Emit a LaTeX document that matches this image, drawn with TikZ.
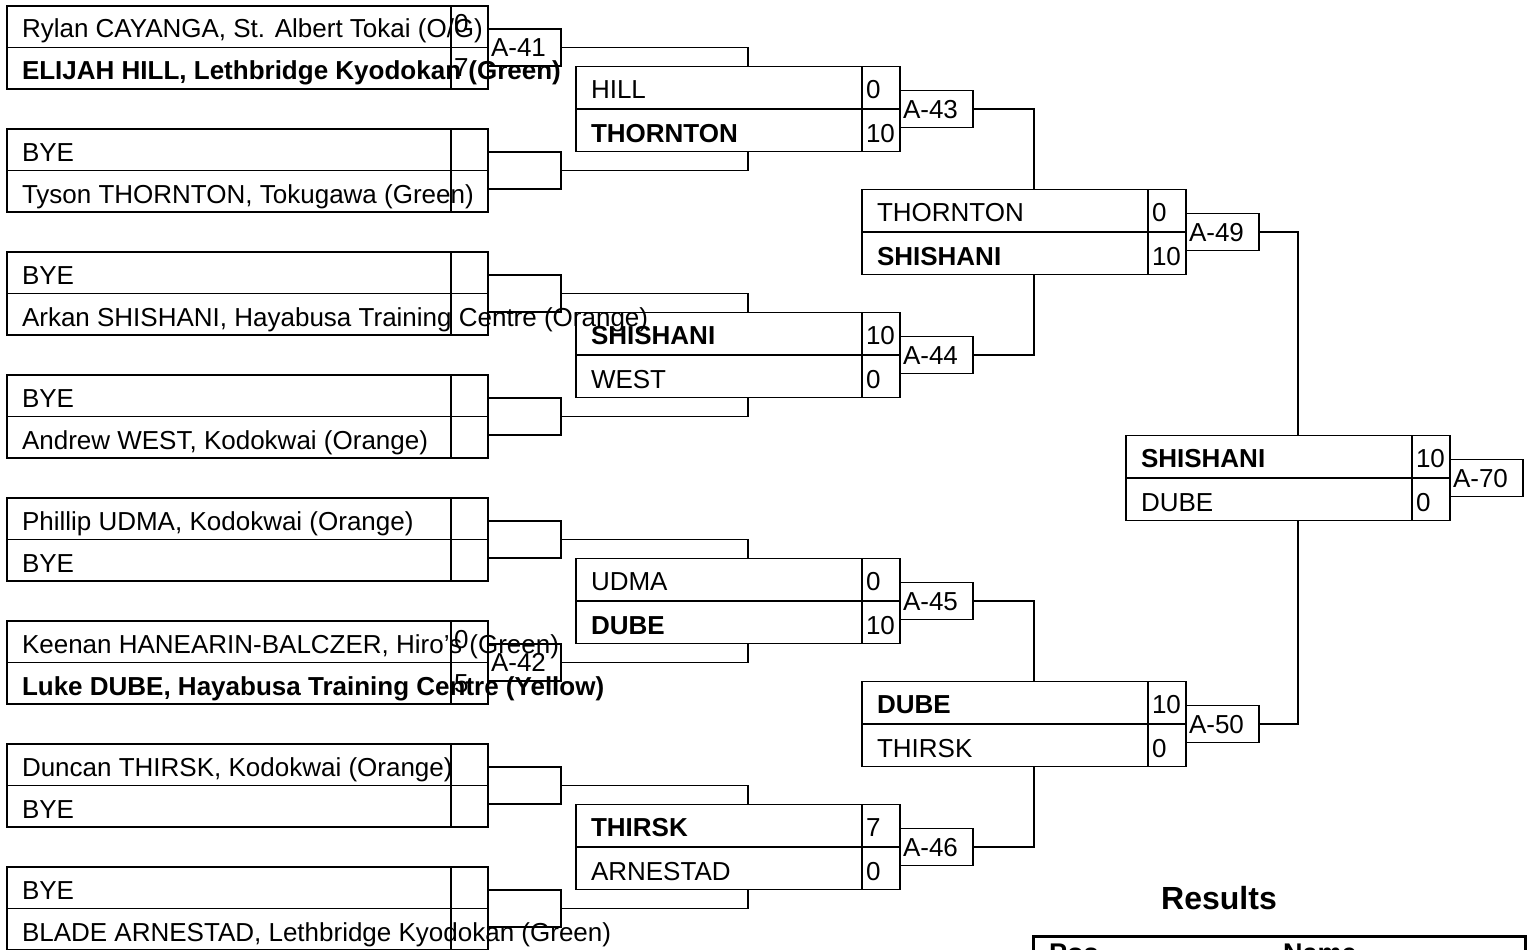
\documentclass[tikz,border=0pt]{standalone}
\usepackage{fontspec}
\setmainfont{Liberation Sans}
\usetikzlibrary{calc}
\tikzset{
  frame/.style={draw, rectangle, inner sep=0pt, outer sep=0pt, line width=1.5pt},
  nm/.style={anchor=base west, inner sep=0pt, outer sep=0pt, font=\fontsize{26}{30}\selectfont},
  lbl/.style={frame, minimum width=73, minimum height=37, anchor=west},
  conn/.style={line width=1.5pt},
}
\newcommand\firstbox[6]{%
  \node[frame, minimum width=481, minimum height=83, anchor=north west] (#1) at (7,#2) {};
  \draw[conn] (#1.west) -- (#1.east);
  \draw[conn] ($(#1.north east)+(-37,0)$) -- ($(#1.south east)+(-37,0)$);
  \node[nm] at ($(#1.north west)+(15,32)$) {#3};
  \node[nm] at ($(#1.north west)+(15,74)$) {#4};
  \node[nm] at ($(#1.north east)+(-34,27)$) {#5};
  \node[nm] at ($(#1.north east)+(-34,71)$) {#6};
}
\newcommand\laterbox[7]{%
  \node[frame, minimum width=324, minimum height=85, anchor=north west] (#1) at (#2,#3) {};
  \draw[conn] (#1.west) -- (#1.east);
  \draw[conn] ($(#1.north east)+(-38,0)$) -- ($(#1.south east)+(-38,0)$);
  \node[nm] at ($(#1.north west)+(15,32)$) {#4};
  \node[nm] at ($(#1.north west)+(15,76)$) {#5};
  \node[nm] at ($(#1.north east)+(-34,32)$) {#6};
  \node[nm] at ($(#1.north east)+(-34,76)$) {#7};
}
\newcommand\boutlabel[3]{%
  \node[lbl] (#1) at (#2.east) {};
  \node[nm] at ($(#1.west)+(3,9)$) {#3};
}
\begin{document}
\begin{tikzpicture}[x=1pt,y=-1pt]
\useasboundingbox (0,0) rectangle (1535,950);
\fill[white] (0,0) rectangle (1535,950);
\clip (0,0) rectangle (1535,950);

% first round
\firstbox{m1}{6}{Rylan CAYANGA, St. Albert Tokai (O/G)}{\bfseries ELIJAH HILL, Lethbridge Kyodokan (Green)}{0}{7}
\firstbox{m2}{129}{BYE}{Tyson THORNTON, Tokugawa (Green)}{}{}
\firstbox{m3}{252}{BYE}{Arkan SHISHANI, Hayabusa Training Centre (Orange)}{}{}
\firstbox{m4}{375}{BYE}{Andrew WEST, Kodokwai (Orange)}{}{}
\firstbox{m5}{498}{Phillip UDMA, Kodokwai (Orange)}{BYE}{}{}
\firstbox{m6}{621}{Keenan HANEARIN-BALCZER, Hiro's (Green)}{\bfseries Luke DUBE, Hayabusa Training Centre (Yellow)}{0}{5}
\firstbox{m7}{744}{Duncan THIRSK, Kodokwai (Orange)}{BYE}{}{}
\firstbox{m8}{867}{BYE}{BLADE ARNESTAD, Lethbridge Kyodokan (Green)}{}{}

\boutlabel{l1}{m1}{A-41}
\boutlabel{l2}{m2}{}
\boutlabel{l3}{m3}{}
\boutlabel{l4}{m4}{}
\boutlabel{l5}{m5}{}
\boutlabel{l6}{m6}{A-42}
\boutlabel{l7}{m7}{}
\boutlabel{l8}{m8}{}

% second round
\laterbox{m9}{576}{66.5}{HILL}{\bfseries THORNTON}{0}{10}
\laterbox{m10}{576}{312.5}{\bfseries SHISHANI}{WEST}{10}{0}
\laterbox{m11}{576}{558.5}{UDMA}{\bfseries DUBE}{0}{10}
\laterbox{m12}{576}{804.5}{\bfseries THIRSK}{ARNESTAD}{7}{0}

\boutlabel{l9}{m9}{A-43}
\boutlabel{l10}{m10}{A-44}
\boutlabel{l11}{m11}{A-45}
\boutlabel{l12}{m12}{A-46}

% third round
\laterbox{m13}{862}{189.5}{THORNTON}{\bfseries SHISHANI}{0}{10}
\laterbox{m14}{862}{681.5}{\bfseries DUBE}{THIRSK}{10}{0}
\boutlabel{l13}{m13}{A-49}
\boutlabel{l14}{m14}{A-50}

% final
\laterbox{m15}{1126}{435.5}{\bfseries SHISHANI}{DUBE}{10}{0}
\boutlabel{l15}{m15}{A-70}

% connectors
\draw[conn] (l1.east) -| ($(m9.north)+(10,0)$);
\draw[conn] (l2.east) -| ($(m9.south)+(10,0)$);
\draw[conn] (l3.east) -| ($(m10.north)+(10,0)$);
\draw[conn] (l4.east) -| ($(m10.south)+(10,0)$);
\draw[conn] (l5.east) -| ($(m11.north)+(10,0)$);
\draw[conn] (l6.east) -| ($(m11.south)+(10,0)$);
\draw[conn] (l7.east) -| ($(m12.north)+(10,0)$);
\draw[conn] (l8.east) -| ($(m12.south)+(10,0)$);
\draw[conn] (l9.east) -| ($(m13.north)+(10,0)$);
\draw[conn] (l10.east) -| ($(m13.south)+(10,0)$);
\draw[conn] (l11.east) -| ($(m14.north)+(10,0)$);
\draw[conn] (l12.east) -| ($(m14.south)+(10,0)$);
\draw[conn] (l13.east) -| ($(m15.north)+(10,0)$);
\draw[conn] (l14.east) -| ($(m15.south)+(10,0)$);

% results
\node[anchor=base, inner sep=0pt, font=\fontsize{32}{36}\selectfont\bfseries] (restitle) at (1219,909) {Results};
\node[draw, line width=3pt, inner sep=0pt, minimum width=492, minimum height=60, anchor=north west] (restable) at (1032,935) {};
\node[anchor=base west, inner sep=0pt, font=\fontsize{27}{30}\selectfont\bfseries] (pos) at (1049,962) {Pos};
\node[anchor=base west, inner sep=0pt, font=\fontsize{27}{30}\selectfont\bfseries] (name) at (1283,962) {Name};
\end{tikzpicture}
\end{document}
